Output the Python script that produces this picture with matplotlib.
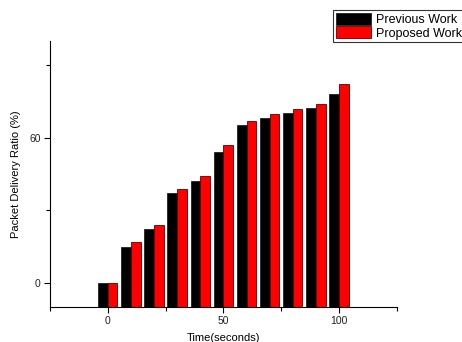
import matplotlib
matplotlib.use("Agg")
import matplotlib.pyplot as plt
import numpy as np
from matplotlib.ticker import MultipleLocator

plt.rcParams['font.family'] = ['Liberation Sans', 'DejaVu Sans']

times = [0, 10, 20, 30, 40, 50, 60, 70, 80, 90, 100]
previous_work = [0, 15.0, 22.1, 37.1, 42.1, 54.2, 65.2, 68.1, 70.2, 72.3, 78.2]
proposed_work = [0, 17.0, 24.1, 39.0, 44.0, 57.1, 67.0, 70.0, 72.1, 74.1, 82.2]
series_names = ['Previous Work', 'Proposed Work']

fig = plt.figure(figsize=(4.62, 3.42), dpi=100)
ax = fig.add_axes([0.108, 0.102, 0.751, 0.778])

ymin = -10
w = 4.2
x = np.array(times, dtype=float)
ax.bar(x - w / 2, np.array(previous_work) - ymin, bottom=ymin, width=w, color='black',
       edgecolor='#202020', linewidth=0.6, label=series_names[0])
ax.bar(x + w / 2, np.array(proposed_work) - ymin, bottom=ymin, width=w, color='#ff0000',
       edgecolor='#600000', linewidth=0.6, label=series_names[1])

ax.set_xlim(-25, 125)
ax.set_ylim(ymin, 100)
ax.xaxis.set_major_locator(MultipleLocator(50))
ax.xaxis.set_minor_locator(MultipleLocator(25))
ax.yaxis.set_minor_locator(MultipleLocator(30))
ax.set_yticks([0, 60])

for s in ['top', 'right']:
    ax.spines[s].set_visible(False)
for s in ['left', 'bottom']:
    ax.spines[s].set_linewidth(0.8)
ax.tick_params(which='major', direction='out', length=4, width=0.8, labelsize=7.5, pad=2.5,
               labelcolor='#222222')
ax.tick_params(which='minor', direction='out', length=3, width=0.8)

ax.set_xlabel('Time(seconds)', fontsize=8, labelpad=5)
ax.set_ylabel('Packet Delivery Ratio (%)', fontsize=8, labelpad=6)

leg = ax.legend(loc='upper left', bbox_to_anchor=(333 / 462, 1 - 10 / 342), bbox_transform=fig.transFigure,
                fontsize=9, frameon=True, fancybox=False, handlelength=2.8, handleheight=1.1,
                borderpad=0.2, labelspacing=0.05, handletextpad=0.4, borderaxespad=0)
leg.get_frame().set_edgecolor('black')
leg.get_frame().set_linewidth(0.8)

fig.savefig('out.png', dpi=100)
